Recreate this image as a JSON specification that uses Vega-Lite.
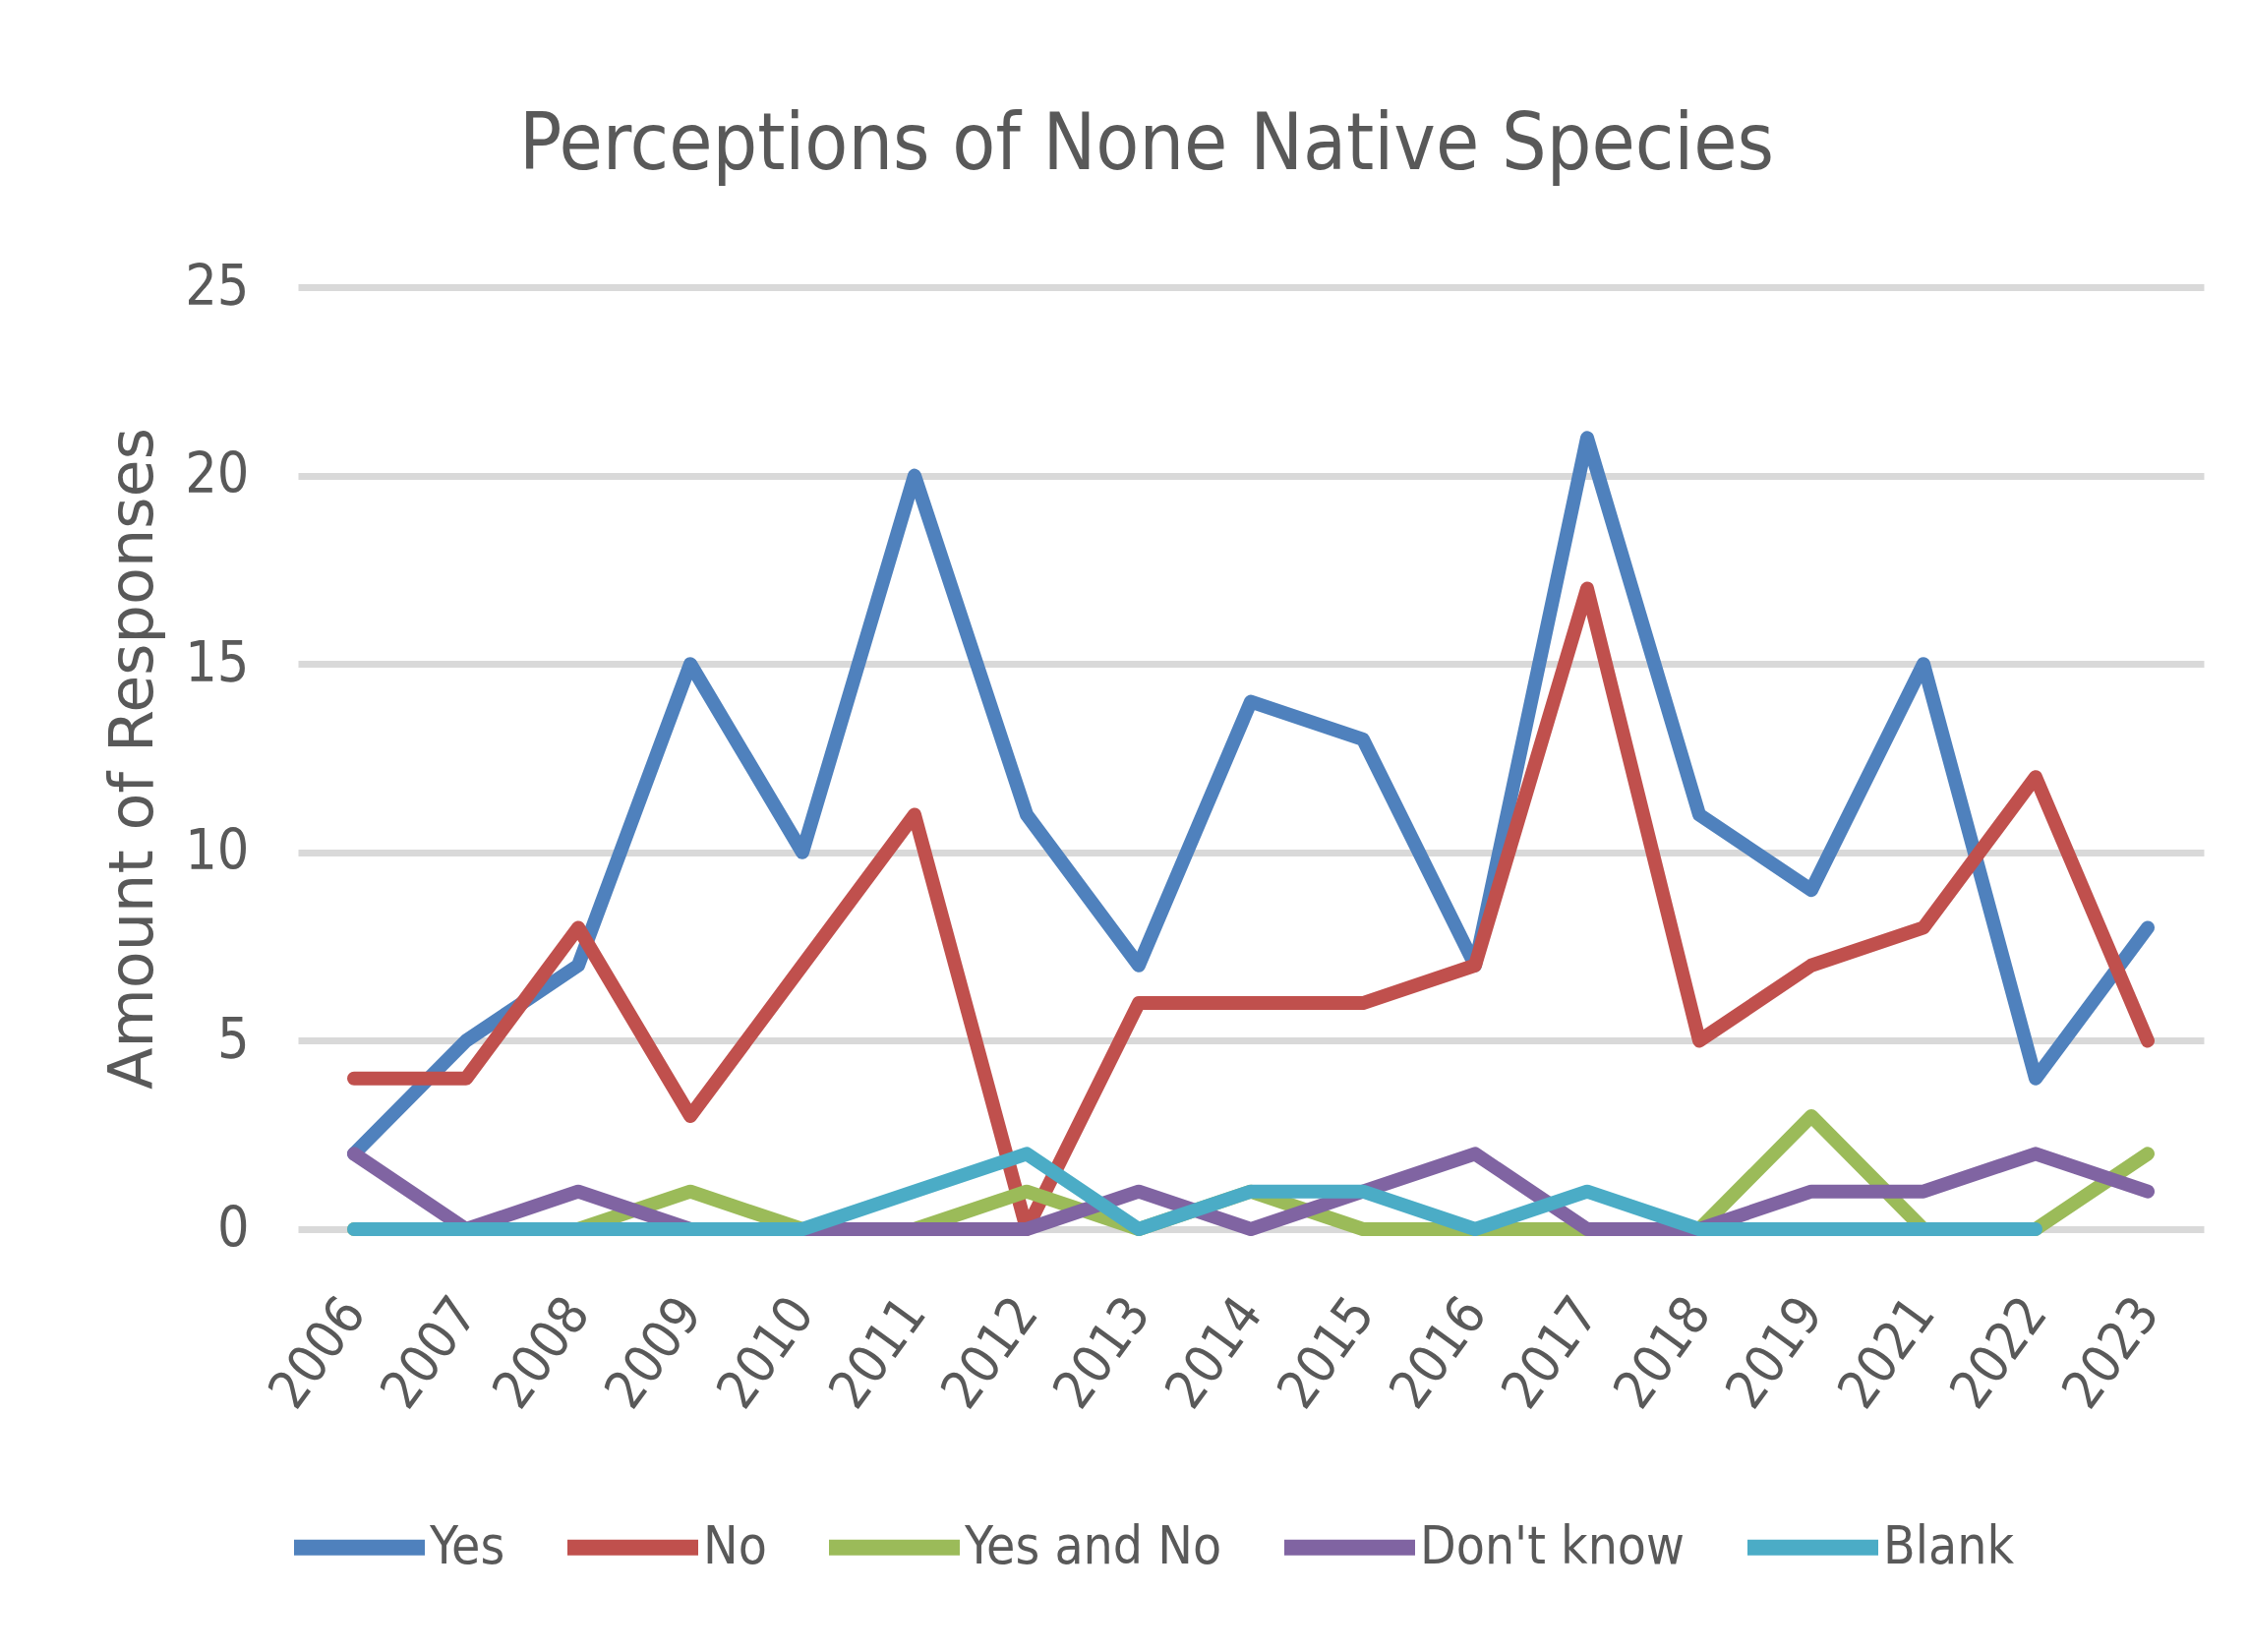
{
  "$schema": "https://vega.github.io/schema/vega-lite/v6.json",
  "width": 1938,
  "height": 958,
  "autosize": {"type": "none"},
  "padding": {"left": 303, "top": 292, "right": 45, "bottom": 430},
  "background": "white",
  "title": {
    "text": "Perceptions of None Native Species",
    "font": "DejaVu Sans Condensed, sans-serif",
    "fontSize": 80,
    "fontWeight": "normal",
    "color": "#595959",
    "anchor": "middle",
    "frame": "group",
    "dx": -106,
    "baseline": "alphabetic",
    "offset": 11
  },
  "data": {
    "values": [
      {"year": "2006", "series": "Yes", "value": 2},
      {"year": "2007", "series": "Yes", "value": 5},
      {"year": "2008", "series": "Yes", "value": 7},
      {"year": "2009", "series": "Yes", "value": 15},
      {"year": "2010", "series": "Yes", "value": 10},
      {"year": "2011", "series": "Yes", "value": 20},
      {"year": "2012", "series": "Yes", "value": 11},
      {"year": "2013", "series": "Yes", "value": 7},
      {"year": "2014", "series": "Yes", "value": 14},
      {"year": "2015", "series": "Yes", "value": 13},
      {"year": "2016", "series": "Yes", "value": 7},
      {"year": "2017", "series": "Yes", "value": 21},
      {"year": "2018", "series": "Yes", "value": 11},
      {"year": "2019", "series": "Yes", "value": 9},
      {"year": "2021", "series": "Yes", "value": 15},
      {"year": "2022", "series": "Yes", "value": 4},
      {"year": "2023", "series": "Yes", "value": 8},

      {"year": "2006", "series": "No", "value": 4},
      {"year": "2007", "series": "No", "value": 4},
      {"year": "2008", "series": "No", "value": 8},
      {"year": "2009", "series": "No", "value": 3},
      {"year": "2010", "series": "No", "value": 7},
      {"year": "2011", "series": "No", "value": 11},
      {"year": "2012", "series": "No", "value": 0},
      {"year": "2013", "series": "No", "value": 6},
      {"year": "2014", "series": "No", "value": 6},
      {"year": "2015", "series": "No", "value": 6},
      {"year": "2016", "series": "No", "value": 7},
      {"year": "2017", "series": "No", "value": 17},
      {"year": "2018", "series": "No", "value": 5},
      {"year": "2019", "series": "No", "value": 7},
      {"year": "2021", "series": "No", "value": 8},
      {"year": "2022", "series": "No", "value": 12},
      {"year": "2023", "series": "No", "value": 5},

      {"year": "2006", "series": "Yes and No", "value": 0},
      {"year": "2007", "series": "Yes and No", "value": 0},
      {"year": "2008", "series": "Yes and No", "value": 0},
      {"year": "2009", "series": "Yes and No", "value": 1},
      {"year": "2010", "series": "Yes and No", "value": 0},
      {"year": "2011", "series": "Yes and No", "value": 0},
      {"year": "2012", "series": "Yes and No", "value": 1},
      {"year": "2013", "series": "Yes and No", "value": 0},
      {"year": "2014", "series": "Yes and No", "value": 1},
      {"year": "2015", "series": "Yes and No", "value": 0},
      {"year": "2016", "series": "Yes and No", "value": 0},
      {"year": "2017", "series": "Yes and No", "value": 0},
      {"year": "2018", "series": "Yes and No", "value": 0},
      {"year": "2019", "series": "Yes and No", "value": 3},
      {"year": "2021", "series": "Yes and No", "value": 0},
      {"year": "2022", "series": "Yes and No", "value": 0},
      {"year": "2023", "series": "Yes and No", "value": 2},

      {"year": "2006", "series": "Don't know", "value": 2},
      {"year": "2007", "series": "Don't know", "value": 0},
      {"year": "2008", "series": "Don't know", "value": 1},
      {"year": "2009", "series": "Don't know", "value": 0},
      {"year": "2010", "series": "Don't know", "value": 0},
      {"year": "2011", "series": "Don't know", "value": 0},
      {"year": "2012", "series": "Don't know", "value": 0},
      {"year": "2013", "series": "Don't know", "value": 1},
      {"year": "2014", "series": "Don't know", "value": 0},
      {"year": "2015", "series": "Don't know", "value": 1},
      {"year": "2016", "series": "Don't know", "value": 2},
      {"year": "2017", "series": "Don't know", "value": 0},
      {"year": "2018", "series": "Don't know", "value": 0},
      {"year": "2019", "series": "Don't know", "value": 1},
      {"year": "2021", "series": "Don't know", "value": 1},
      {"year": "2022", "series": "Don't know", "value": 2},
      {"year": "2023", "series": "Don't know", "value": 1},

      {"year": "2006", "series": "Blank", "value": 0},
      {"year": "2007", "series": "Blank", "value": 0},
      {"year": "2008", "series": "Blank", "value": 0},
      {"year": "2009", "series": "Blank", "value": 0},
      {"year": "2010", "series": "Blank", "value": 0},
      {"year": "2011", "series": "Blank", "value": 1},
      {"year": "2012", "series": "Blank", "value": 2},
      {"year": "2013", "series": "Blank", "value": 0},
      {"year": "2014", "series": "Blank", "value": 1},
      {"year": "2015", "series": "Blank", "value": 1},
      {"year": "2016", "series": "Blank", "value": 0},
      {"year": "2017", "series": "Blank", "value": 1},
      {"year": "2018", "series": "Blank", "value": 0},
      {"year": "2019", "series": "Blank", "value": 0},
      {"year": "2021", "series": "Blank", "value": 0},
      {"year": "2022", "series": "Blank", "value": 0}
    ]
  },
  "mark": {"type": "line", "strokeWidth": 14, "strokeCap": "round", "strokeJoin": "round"},
  "encoding": {
    "x": {
      "field": "year",
      "type": "ordinal",
      "sort": ["2006", "2007", "2008", "2009", "2010", "2011", "2012", "2013", "2014", "2015", "2016", "2017", "2018", "2019", "2021", "2022", "2023"],
      "scale": {"type": "point", "padding": 0.5},
      "axis": {
        "title": null,
        "domain": false,
        "ticks": false,
        "grid": false,
        "labelAngle": -54,
        "labelFontSize": 54,
        "labelPadding": 76
      }
    },
    "y": {
      "field": "value",
      "type": "quantitative",
      "scale": {"domain": [0, 25], "nice": false},
      "axis": {
        "values": [0, 5, 10, 15, 20, 25],
        "title": "Amount of Responses",
        "titleFont": "DejaVu Sans, sans-serif",
        "titleFontSize": 62,
        "titleFontWeight": "normal",
        "titleColor": "#595959",
        "titlePadding": 20,
        "domain": false,
        "ticks": false,
        "grid": true,
        "gridColor": "#D9D9D9",
        "gridWidth": 7,
        "labelFontSize": 57,
        "labelPadding": 50
      }
    },
    "color": {
      "field": "series",
      "type": "nominal",
      "scale": {
        "domain": ["Yes", "No", "Yes and No", "Don't know", "Blank"],
        "range": ["#4F81BD", "#C0504D", "#9BBB59", "#8064A2", "#4BACC6"]
      },
      "legend": {
        "title": null,
        "orient": "none",
        "direction": "horizontal",
        "columns": 5,
        "legendX": -12,
        "legendY": 1207,
        "symbolType": "stroke",
        "symbolSize": 17689,
        "symbolStrokeWidth": 16,
        "labelFontSize": 53,
        "labelOffset": -3,
        "columnPadding": 31,
        "labelFont": "DejaVu Sans Condensed, sans-serif",
        "labelColor": "#595959",
        "labelLimit": 0
      }
    }
  },
  "config": {
    "view": {"stroke": null},
    "axis": {
      "labelFont": "DejaVu Sans Condensed, sans-serif",
      "labelColor": "#595959"
    }
  }
}
